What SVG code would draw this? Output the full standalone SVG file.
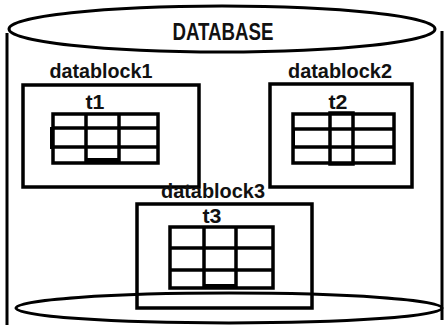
<svg xmlns="http://www.w3.org/2000/svg" width="444" height="327" viewBox="0 0 444 327">
  <style>
    .ln { fill: none; stroke: #000; stroke-width: 3; }
    .box { fill: none; stroke: #000; stroke-width: 3.5; }
    .grid { fill: none; stroke: #000; stroke-width: 3.5; }
    .lbl { font-family: "Liberation Sans", Arial, sans-serif; font-size: 21px; font-weight: bold; fill: #111; text-anchor: middle; }
    .title { font-family: "Liberation Sans", Arial, sans-serif; font-size: 23px; font-weight: bold; fill: #111; text-anchor: middle; }
  </style>
  <rect width="444" height="327" fill="#fff"/>

  <!-- database cylinder -->
  <g id="database">
    <line class="ln" x1="7" y1="33" x2="7" y2="325"/>
    <line class="ln" x1="442" y1="31" x2="442" y2="320"/>
    <ellipse class="ln" cx="222" cy="29" rx="213" ry="23"/>
    <ellipse class="ln" cx="229" cy="308" rx="213" ry="15"/>
    <text class="title" x="223" y="40" textLength="101" lengthAdjust="spacingAndGlyphs">DATABASE</text>
  </g>

  <!-- datablock1 with table t1 -->
  <g id="datablock1">
    <text class="lbl" x="101" y="78" textLength="103" lengthAdjust="spacingAndGlyphs">datablock1</text>
    <rect class="box" x="23" y="85" width="176" height="102"/>
    <text class="lbl" x="95" y="109" textLength="19" lengthAdjust="spacingAndGlyphs">t1</text>
    <g id="t1">
      <rect class="grid" x="53" y="114" width="105" height="49"/>
      <line class="grid" x1="53" y1="128" x2="158" y2="128"/>
      <line class="grid" x1="53" y1="147" x2="158" y2="147"/>
      <line class="grid" x1="86" y1="114" x2="86" y2="163"/>
      <line class="grid" x1="119" y1="114" x2="119" y2="163"/>
      <rect x="86" y="158" width="33" height="5" fill="#000"/>
      <rect x="50" y="127" width="3" height="22" fill="#000"/>
    </g>
  </g>

  <!-- datablock2 with table t2 -->
  <g id="datablock2">
    <text class="lbl" x="340" y="78" textLength="104" lengthAdjust="spacingAndGlyphs">datablock2</text>
    <rect class="box" x="270" y="84" width="142" height="103"/>
    <text class="lbl" x="338" y="109" textLength="19" lengthAdjust="spacingAndGlyphs">t2</text>
    <g id="t2">
      <rect class="grid" x="293" y="114" width="101" height="49"/>
      <line class="grid" x1="293" y1="129" x2="394" y2="129"/>
      <line class="grid" x1="293" y1="147" x2="394" y2="147"/>
      <rect class="grid" x="330" y="113" width="23" height="51"/>
      <rect x="292" y="128" width="3" height="20" fill="#000"/>
    </g>
  </g>

  <!-- datablock3 with table t3 -->
  <g id="datablock3">
    <rect class="box" x="137" y="204" width="175" height="104"/>
    <text class="lbl" x="213" y="198" textLength="104" lengthAdjust="spacingAndGlyphs">datablock3</text>
    <text class="lbl" x="212" y="223" textLength="19" lengthAdjust="spacingAndGlyphs">t3</text>
    <g id="t3">
      <rect class="grid" x="170" y="227" width="103" height="61"/>
      <line class="grid" x1="170" y1="248" x2="273" y2="248"/>
      <line class="grid" x1="170" y1="270" x2="273" y2="270"/>
      <line class="grid" x1="204" y1="227" x2="204" y2="288"/>
      <line class="grid" x1="236" y1="227" x2="236" y2="288"/>
      <rect x="204" y="284" width="32" height="4" fill="#000"/>
    </g>
  </g>
</svg>
